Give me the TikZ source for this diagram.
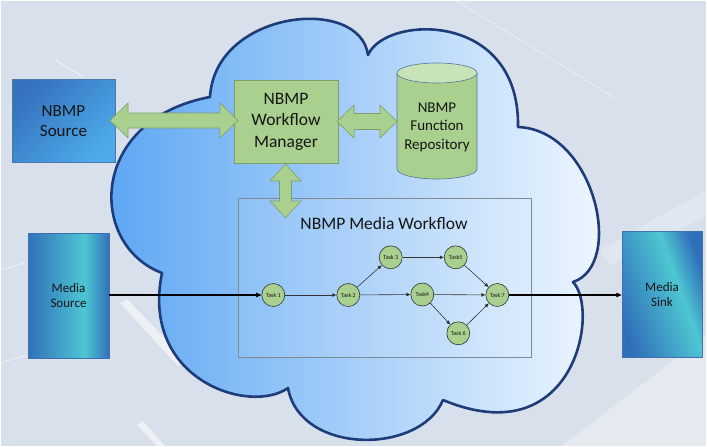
\documentclass[tikz,border=0pt]{standalone}
\usepackage{fontspec}
\setmainfont{Carlito}
\usetikzlibrary{arrows.meta}
\definecolor{bg}{HTML}{D8E0EB}
\definecolor{cloudL}{HTML}{58A4F3}
\definecolor{cloudR}{HTML}{F5FAFF}
\definecolor{cloudLine}{HTML}{1F3C7A}
\definecolor{gfill}{HTML}{A9D08E}
\definecolor{gtop}{HTML}{C9E3B8}
\definecolor{gline}{HTML}{7F9F6A}
\definecolor{cylline}{HTML}{55789A}
\definecolor{srcA}{HTML}{3573BE}
\definecolor{srcB}{HTML}{4DAAE9}
\definecolor{mA}{HTML}{3070BA}
\definecolor{mB}{HTML}{4EC6D2}
\definecolor{wfline}{HTML}{808A96}
\definecolor{taskline}{HTML}{333333}
\definecolor{txt}{HTML}{151515}
\pgfdeclarehorizontalshading{mediashade}{100bp}{color(0bp)=(mA); color(25bp)=(mA); color(60bp)=(mB); color(75bp)=(mA); color(100bp)=(mA)}
\newcommand\hdblarrow[6]{\filldraw[dblarr] (#1,#3) -- ({#1+#6},{#3+#5}) -- ({#1+#6},{#3+#4}) -- ({#2-#6},{#3+#4}) -- ({#2-#6},{#3+#5}) -- (#2,#3) -- ({#2-#6},{#3-#5}) -- ({#2-#6},{#3-#4}) -- ({#1+#6},{#3-#4}) -- ({#1+#6},{#3-#5}) -- cycle;}
\newcommand\vdblarrow[6]{\filldraw[dblarr] (#1,#2) -- ({#1+#5},{#2-#6}) -- ({#1+#4},{#2-#6}) -- ({#1+#4},{#3+#6}) -- ({#1+#5},{#3+#6}) -- (#1,#3) -- ({#1-#5},{#3+#6}) -- ({#1-#4},{#3+#6}) -- ({#1-#4},{#2-#6}) -- ({#1-#5},{#2-#6}) -- cycle;}
\tikzset{
  dblarr/.style={fill=gfill, draw=gline, line width=0.6pt, line join=miter},
  greenbox/.style={rectangle, fill=gfill, draw=gline, line width=0.6pt, inner sep=0pt, align=center, text=txt},
  srcbox/.style={rectangle, top color=srcA, bottom color=srcB, shading angle=45, draw=srcA!70!gray, line width=0.5pt, inner sep=0pt, align=center, text=txt},
  mediabox/.style={rectangle, shading=mediashade, draw=mA!80!gray, line width=0.5pt, inner sep=0pt, align=center, text=txt, font=\fontsize{13}{14.5}\selectfont},
  task/.style={circle, fill=gfill, draw=taskline, line width=0.6pt, minimum size=23pt, inner sep=0pt, font=\fontsize{6}{7}\selectfont, text=txt},
  tarr/.style={draw=taskline, line width=0.6pt, -{Triangle[length=3.8pt,width=3.4pt]}, shorten >=0.3pt},
  mainarr/.style={draw=black, line width=1.1pt, -{Triangle[length=5.5pt,width=4.5pt]}}
}
\begin{document}
\begin{tikzpicture}[x=1pt,y=1pt]
% background
\fill[bg] (0,0) rectangle (707,-447);
\useasboundingbox (0,0) rectangle (707,-447);
\fill[white, opacity=.35] (560,-447) -- (707,-335) -- (707,-447) -- cycle;
\fill[white, opacity=.25] (600,-250) -- (707,-190) -- (707,-215) -- (610,-265) -- cycle;
\draw[white, opacity=.7, line width=.8pt] (55,-60) -- (82,-76);
\draw[white, opacity=.6, line width=.6pt] (455,0) -- (615,-98);
\draw[white, opacity=.6, line width=.8pt] (0,-270) -- (25,-263);
\draw[white, opacity=.6, line width=.8pt] (0,-363) -- (27,-355);
\fill[white, opacity=.55] (120,-303) -- (127,-299) -- (186,-360) -- (178,-366) -- cycle;
\fill[white, opacity=.55] (137,-425) -- (143,-421) -- (166,-447) -- (158,-447) -- cycle;
\draw[white, line width=2pt] (0,0) rectangle (707,-447);
% cloud
\path[left color=cloudL, right color=cloudR, draw=cloudLine, line width=2.6pt, line join=round]
  (162,-273) .. controls (88,-245) and (88,-120) .. (210,-97)
  .. controls (215,-10) and (360,5) .. (368,-55)
  .. controls (385,-15) and (520,-10) .. (518,-127)
  .. controls (595,-130) and (625,-265) .. (573,-282)
  .. controls (600,-310) and (575,-455) .. (443,-400)
  .. controls (420,-455) and (300,-455) .. (288,-388)
  .. controls (250,-415) and (140,-380) .. (162,-273) -- cycle;
% boxes
\node[srcbox, minimum width=103pt, minimum height=83pt, font=\fontsize{17}{20}\selectfont] (nsrc) at (63.5,-121) {NBMP\\Source};
\node[greenbox, minimum width=104pt, minimum height=83pt, font=\fontsize{17.5}{21.5}\selectfont] (wfm) at (286,-121.5) {NBMP\\Workflow\\Manager};
% cylinder repository
\filldraw[fill=gfill, draw=cylline, line width=0.6pt] (397,-73) -- (397,-169) arc[start angle=180, end angle=360, x radius=40, y radius=10] -- (477,-73) -- cycle;
\filldraw[fill=gtop, draw=cylline, line width=0.6pt] (437,-73) ellipse[x radius=40, y radius=10];
\node[align=center, text=txt, font=\fontsize{15}{18.5}\selectfont] (repo) at (437,-127) {NBMP\\Function\\Repository};
% workflow box
\node[rectangle, draw=wfline, line width=0.7pt, fill=white, fill opacity=0.08, minimum width=293pt, minimum height=159pt] (wf) at (384.5,-277.5) {};
\node[text=txt, font=\fontsize{17.5}{19}\selectfont] (wftitle) at (384,-223) {NBMP Media Workflow};
% media source / sink
\node[mediabox, minimum width=81pt, minimum height=125pt] (msrc) at (68.5,-295.5) {Media\\Source};
\node[mediabox, shading angle=20, minimum width=80pt, minimum height=126pt] (msink) at (662,-294.5) {Media\\Sink};
% double arrows
\hdblarrow{110}{238}{-120.5}{7.5}{17.5}{18}
\hdblarrow{337}{397}{-121.5}{8}{16.5}{17}
\vdblarrow{285.5}{-164}{-218}{6}{15.5}{17}
% tasks
\node[task] (t1) at (273.3,-295) {Task 1};
\node[task] (t2) at (348.3,-295) {Task 2};
\node[task] (t3) at (390.7,-257.3) {Task 3};
\node[task] (t5) at (455.7,-257.3) {Task5};
\node[task] (t4) at (422.3,-294.5) {Task4};
\node[task] (t7) at (497.3,-295) {Task 7};
\node[task] (t6) at (458.3,-333.3) {Task 6};
\draw[tarr] (t1) -- (t2);
\draw[tarr] (t2) -- (t3);
\draw[tarr] (t2) -- (t4);
\draw[tarr] (t3) -- (t5);
\draw[tarr] (t5) -- (t7);
\draw[tarr] (t4) -- (t7);
\draw[tarr] (t4) -- (t6);
\draw[tarr] (t6) -- (t7);
\draw[mainarr] (msrc.east |- t1.west) -- (t1.west);
\draw[mainarr] (t7.east) -- (msink.west |- t7.east);
\end{tikzpicture}
\end{document}
